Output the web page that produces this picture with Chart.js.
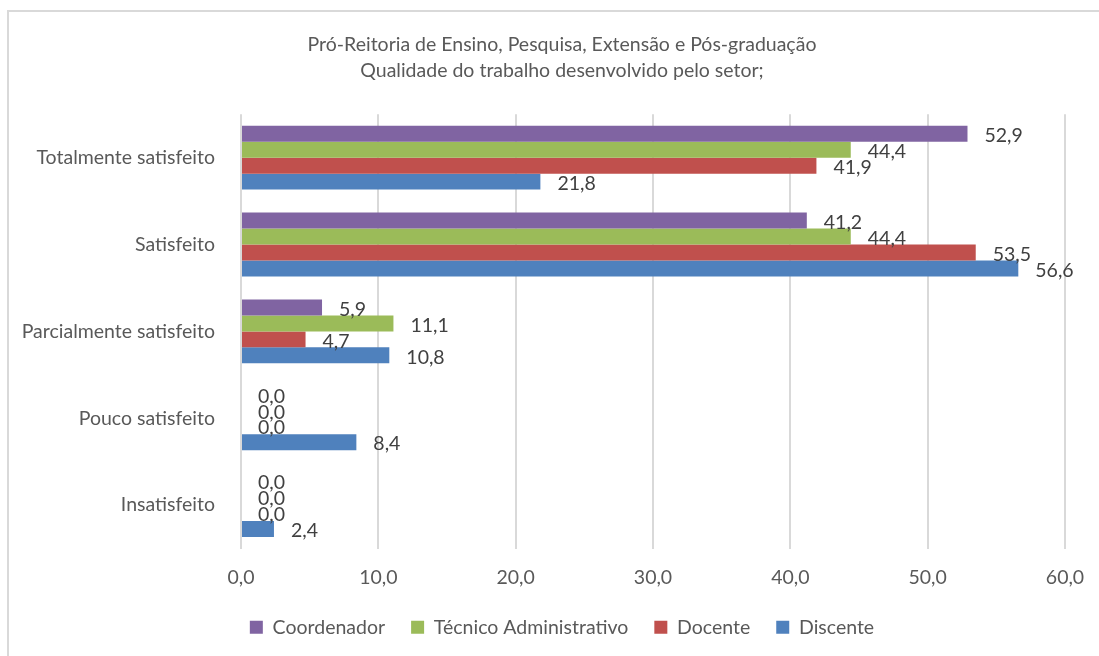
<!DOCTYPE html>
<html>
<head>
<meta charset="utf-8">
<script src="https://cdn.jsdelivr.net/npm/chart.js@4"></script>
<style>
  body { margin: 0; background: #fff; overflow: hidden; }
  #frame { position: absolute; left: 7px; top: 10px; width: 1200px; height: 800px; border: 2px solid #d9d9d9; }
  #myChart { position: absolute; left: 0; top: 0; }
</style>
</head>
<body>
<div id="frame"></div>
<canvas id="myChart" width="1124" height="656"></canvas>
<script>
// categories (top to bottom) and values per group
const categories = ['Totalmente satisfeito', 'Satisfeito', 'Parcialmente satisfeito', 'Pouco satisfeito', 'Insatisfeito']
const coordenador = [52.9, 41.2, 5.9, 0.0, 0.0]
const tecnico = [44.4, 44.4, 11.1, 0.0, 0.0]
const docente = [41.9, 53.5, 4.7, 0.0, 0.0]
const discente = [21.8, 56.6, 10.8, 8.4, 2.4]
const titleLines = ['Pró-Reitoria de Ensino, Pesquisa, Extensão e Pós-graduação', 'Qualidade do trabalho desenvolvido pelo setor;']

const fmt = (v) => v.toFixed(1).replace('.', ',')
const fontFamily = 'Lato, "Noto Sans", sans-serif'
const fontSize = 19.5

// draws the value next to every bar, like Excel data labels
const valueLabels = {
    id: 'valueLabels',
    afterDatasetsDraw(chart) {
        const ctx = chart.ctx
        ctx.save()
        ctx.font = fontSize + 'px ' + fontFamily
        ctx.fillStyle = '#404040'
        ctx.textAlign = 'left'
        ctx.textBaseline = 'middle'
        chart.data.datasets.forEach((ds, i) => {
            const meta = chart.getDatasetMeta(i)
            meta.data.forEach((bar, j) => {
                ctx.fillText(fmt(ds.data[j]), bar.x + 17, bar.y + 2)
            })
        })
        ctx.restore()
    }
}

const makeSet = (label, data, color) => ({
    label: label,
    data: data,
    backgroundColor: color,
    borderWidth: 0,
    categoryPercentage: 0.735,
    barPercentage: 1.0
})

var ctx = document.getElementById('myChart').getContext('2d');
var myChart = new Chart(ctx, {
    type: 'bar',
    data: {
        labels: categories,
        datasets: [
            makeSet('Coordenador', coordenador, '#8064A2'),
            makeSet('Técnico Administrativo', tecnico, '#9BBB59'),
            makeSet('Docente', docente, '#C0504D'),
            makeSet('Discente', discente, '#4F81BD')
        ]
    },
    options: {
        indexAxis: 'y',
        responsive: false,
        animation: false,
        devicePixelRatio: 1,
        layout: { padding: { left: 0, right: 0, top: 32, bottom: 9 } },
        scales: {
            x: {
                min: 0,
                max: 60,
                ticks: { stepSize: 10, callback: (v) => fmt(v), color: '#595959', font: { size: fontSize, family: fontFamily }, padding: 18 },
                grid: { color: '#d9d9d9', lineWidth: 2, drawTicks: false },
                border: { display: false },
                afterFit: (scale) => { scale.height = 43 }
            },
            y: {
                ticks: { color: '#595959', font: { size: fontSize, family: fontFamily }, padding: 18 },
                grid: { display: false },
                border: { display: false },
                afterFit: (scale) => { scale.width = 241 }
            },
            // empty right-hand axis, only keeps the plot clear of the right margin
            spacer: {
                type: 'linear',
                axis: 'y',
                position: 'right',
                ticks: { display: false },
                grid: { display: false },
                border: { display: false },
                afterFit: (scale) => { scale.width = 59 }
            }
        },
        plugins: {
            title: {
                display: true,
                text: titleLines,
                color: '#595959',
                font: { size: fontSize, family: fontFamily, weight: 'normal', lineHeight: 1.34 },
                padding: { top: 0, bottom: 30 }
            },
            legend: {
                position: 'bottom',
                labels: { boxWidth: 13, boxHeight: 13, color: '#595959', font: { size: fontSize, family: fontFamily }, padding: 26 }
            },
            tooltip: { enabled: false }
        }
    },
    plugins: [valueLabels]
});
</script>
</body>
</html>
